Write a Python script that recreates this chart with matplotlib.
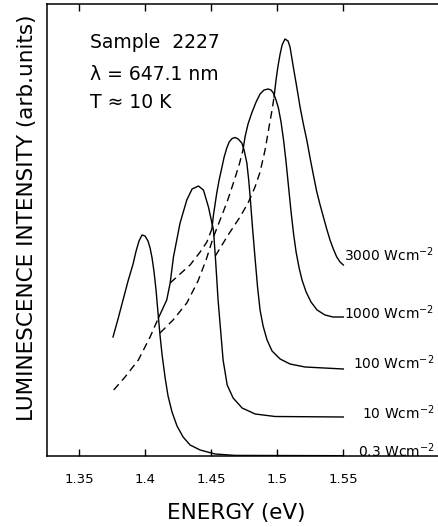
import numpy as np
import matplotlib.pyplot as plt

# photoluminescence spectra (energy in eV, intensity arb. units)
# each curve is dashed below split energy (extrapolated tail), solid above
e_03 = [1.3755, 1.3793, 1.3831, 1.3869, 1.3907, 1.3930, 1.3952, 1.3975, 1.3998, 1.4020,
        1.4036, 1.4051, 1.4066, 1.4081, 1.4096, 1.4111, 1.4127, 1.4150, 1.4172, 1.4202,
        1.4240, 1.4286, 1.4339, 1.4415, 1.4528, 1.4680, 1.55]
i_03 = [1.19, 1.37, 1.56, 1.75, 1.92, 2.05, 2.15, 2.21, 2.20, 2.15,
        2.08, 1.98, 1.84, 1.66, 1.43, 1.21, 1.01, 0.78, 0.60, 0.44,
        0.30, 0.19, 0.11, 0.06, 0.02, 0.006, 0.003]

e_10 = [1.3760, 1.3846, 1.3947, 1.4036, 1.4099, 1.4162, 1.4188, 1.4213, 1.4263, 1.4314,
        1.4354, 1.4402, 1.4440, 1.4478, 1.4516, 1.4532, 1.4551, 1.4570, 1.4589, 1.4620,
        1.4665, 1.4733, 1.4832, 1.4983, 1.55]
i_10 = [0.66, 0.79, 0.96, 1.19, 1.38, 1.56, 1.73, 1.99, 2.33, 2.56,
        2.67, 2.70, 2.66, 2.49, 2.26, 1.96, 1.56, 1.26, 0.96, 0.71,
        0.58, 0.48, 0.42, 0.395, 0.39]

e_100 = [1.4188, 1.4263, 1.4339, 1.4415, 1.4466, 1.4504, 1.4516, 1.4541, 1.4559, 1.4579,
         1.4597, 1.4617, 1.4635, 1.4657, 1.4680, 1.4703, 1.4731, 1.4748, 1.4769, 1.4783,
         1.4794, 1.4812, 1.4831, 1.4850, 1.4869, 1.4892, 1.4922, 1.4960, 1.5021, 1.5096,
         1.5210, 1.55]
i_100 = [1.73, 1.82, 1.91, 2.04, 2.14, 2.27, 2.41, 2.63, 2.76, 2.88,
         2.99, 3.08, 3.14, 3.175, 3.185, 3.17, 3.13, 3.06, 2.93, 2.76,
         2.59, 2.28, 1.98, 1.69, 1.46, 1.30, 1.16, 1.05, 0.97, 0.92,
         0.89, 0.87]

e_1000 = [1.4111, 1.4210, 1.4314, 1.4399, 1.4460, 1.4513, 1.4566, 1.4619, 1.4672, 1.4710,
          1.4740, 1.4755, 1.4778, 1.4806, 1.4839, 1.4869, 1.4899, 1.4930, 1.4952, 1.4970,
          1.4990, 1.5008, 1.5028, 1.5047, 1.5066, 1.5085, 1.5104, 1.5123, 1.5142, 1.5165,
          1.5187, 1.5218, 1.5255, 1.5301, 1.5361, 1.5422, 1.55]
i_1000 = [1.23, 1.36, 1.53, 1.75, 1.96, 2.18, 2.36, 2.54, 2.75, 2.91,
          3.06, 3.19, 3.32, 3.43, 3.54, 3.62, 3.66, 3.67, 3.66, 3.63,
          3.56, 3.48, 3.34, 3.16, 2.94, 2.69, 2.44, 2.22, 2.04, 1.88,
          1.76, 1.64, 1.54, 1.46, 1.41, 1.39, 1.39]

e_3000 = [1.4530, 1.4627, 1.4717, 1.4778, 1.4831, 1.4869, 1.4907, 1.4937, 1.4960, 1.4975,
          1.4990, 1.5005, 1.5021, 1.5036, 1.5058, 1.5081, 1.5096, 1.5121, 1.5147, 1.5172,
          1.5197, 1.5223, 1.5248, 1.5273, 1.5299, 1.5324, 1.5349, 1.5374, 1.5399, 1.5424,
          1.5450, 1.5475, 1.55]
i_3000 = [2.00, 2.21, 2.39, 2.53, 2.69, 2.84, 3.06, 3.29, 3.46, 3.59,
          3.76, 3.90, 4.02, 4.11, 4.17, 4.15, 4.09, 3.89, 3.69, 3.49,
          3.32, 3.16, 2.98, 2.81, 2.64, 2.51, 2.39, 2.27, 2.16, 2.07,
          1.99, 1.94, 1.91]

split_energy = [None, 1.4099, 1.4504, 1.4740, 1.4975]
power_labels = ["0.3 Wcm$^{-2}$", "10 Wcm$^{-2}$", "100 Wcm$^{-2}$",
                "1000 Wcm$^{-2}$", "3000 Wcm$^{-2}$"]
label_y = [0.05, 0.43, 0.93, 1.43, 2.01]
energy_ticks = [1.35, 1.4, 1.45, 1.5, 1.55]
tick_text = ["1.35", "1.4", "1.45", "1.5", "1.55"]

series = [(e_03, i_03), (e_10, i_10), (e_100, i_100), (e_1000, i_1000), (e_3000, i_3000)]

fig = plt.figure(figsize=(4.38, 5.27), dpi=100)
ax = fig.add_axes([47 / 438, 71 / 527, 391 / 438, 452 / 527])

for (e, i), split in zip(series, split_energy):
    e = np.array(e)
    i = np.array(i)
    if split is None:
        ax.plot(e, i, color="black", lw=1.0)
        continue
    low = e <= split
    high = e >= split
    ax.plot(e[low], i[low], color="black", lw=1.0, linestyle=(0, (5.5, 3.5)))
    ax.plot(e[high], i[high], color="black", lw=1.0)

for txt, y in zip(power_labels, label_y):
    ax.text(1.6190, y, txt, ha="right", va="center", fontsize=10)

ax.text(0.11, 0.914, "Sample  2227", transform=ax.transAxes, fontsize=13.5, va="center")
ax.text(0.11, 0.845, "λ = 647.1 nm", transform=ax.transAxes, fontsize=13.5, va="center")
ax.text(0.11, 0.781, "T ≈ 10 K", transform=ax.transAxes, fontsize=13.5, va="center")

ax.set_xlim(1.3255, 1.6217)
ax.set_ylim(0, 4.52)
ax.set_xticks(energy_ticks)
ax.set_xticklabels(tick_text, fontsize=9.5)
ax.set_yticks([])
ax.tick_params(axis="x", direction="in", top=True, length=5, width=1, pad=12)
ax.spines["right"].set_visible(False)
for s in ["left", "bottom", "top"]:
    ax.spines[s].set_linewidth(1.1)

fig.text(236 / 438, 14 / 527, "ENERGY (eV)", ha="center", va="center", fontsize=15.5)
fig.text(27 / 438, 1 - 218 / 527, "LUMINESCENCE INTENSITY (arb.units)",
         rotation=90, ha="center", va="center", fontsize=15.5)

fig.savefig("out.png", dpi=100)
